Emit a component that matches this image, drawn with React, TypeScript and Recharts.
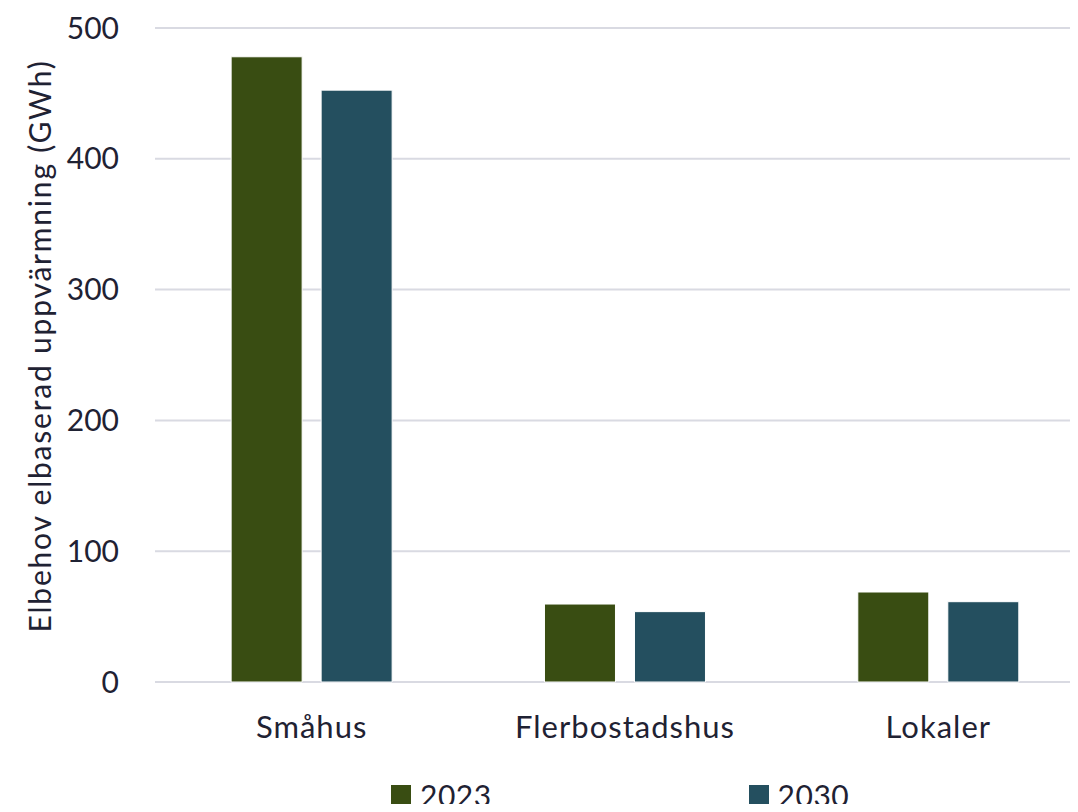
import React from 'react';
import { BarChart, Bar, XAxis, YAxis, CartesianGrid, Legend } from 'recharts';

// Elbehov för elbaserad uppvärmning per byggnadstyp
const categories = ['Småhus', 'Flerbostadshus', 'Lokaler'];
const values2023 = [478, 59.6, 68.8];
const values2030 = [452.5, 53.8, 61.4];
const yTicks = [0, 100, 200, 300, 400, 500];

const seriesNames = ['2023', '2030'];
const seriesColors = ['#394d12', '#244f5f'];

const FONT = 'Lato, "Open Sans", sans-serif';
const TEXT = '#1f2233';
const GRID = '#d9dae2';

const chartData = categories.map((name, i) => ({
  name,
  v2023: values2023[i],
  v2030: values2030[i],
}));

const YLabel = ({ viewBox }: any) => {
  const cx = 39;
  const cy = viewBox.y + viewBox.height / 2 - 9;
  return (
    <text
      x={cx}
      y={cy}
      transform={`rotate(-90, ${cx}, ${cy})`}
      textAnchor="middle"
      dominantBaseline="central"
      fontSize={30}
      fill={TEXT}
      fontFamily={FONT}
      letterSpacing={1.8}
    >
      Elbehov elbaserad uppvärmning (GWh)
    </text>
  );
};

const LegendContent = () => (
  <div style={{ display: 'flex', paddingLeft: 391, fontFamily: FONT }}>
    {seriesNames.map((name, i) => (
      <div
        key={name}
        style={{ display: 'flex', alignItems: 'center', marginRight: i === 0 ? 257 : 0 }}
      >
        <span
          style={{ width: 20, height: 20, background: seriesColors[i], display: 'inline-block', marginRight: 9 }}
        />
        <span style={{ fontSize: 30, color: TEXT, lineHeight: '30px', letterSpacing: 0.5 }}>{name}</span>
      </div>
    ))}
  </div>
);

export default function App() {
  return (
    <div style={{ margin: -8, width: 1078, height: 812, background: '#fff', overflow: 'hidden' }}>
      <BarChart
        width={1078}
        height={812}
        data={chartData}
        margin={{ top: 28, right: -17, left: 0, bottom: 0 }}
        barCategoryGap="24.3%"
        barGap={19}
      >
        <CartesianGrid vertical={false} stroke={GRID} strokeWidth={2} />
        <XAxis
          dataKey="name"
          axisLine={false}
          tickLine={false}
          tickSize={0}
          tickMargin={34}
          height={100}
          tick={{ fontSize: 31, fill: TEXT, fontFamily: FONT, letterSpacing: 1 }}
        />
        <YAxis
          domain={[0, 500]}
          ticks={yTicks}
          axisLine={false}
          tickLine={false}
          tickSize={0}
          tickMargin={36}
          width={155}
          tick={{ fontSize: 30, fill: TEXT, fontFamily: FONT }}
          label={<YLabel />}
        />
        <Legend
          verticalAlign="bottom"
          content={<LegendContent />}
          wrapperStyle={{ left: 0, width: 1078, top: 780 }}
        />
        <Bar dataKey="v2023" name={seriesNames[0]} fill={seriesColors[0]} stroke="#ffffff" strokeWidth={1} isAnimationActive={false} />
        <Bar dataKey="v2030" name={seriesNames[1]} fill={seriesColors[1]} stroke="#ffffff" strokeWidth={1} isAnimationActive={false} />
      </BarChart>
    </div>
  );
}
